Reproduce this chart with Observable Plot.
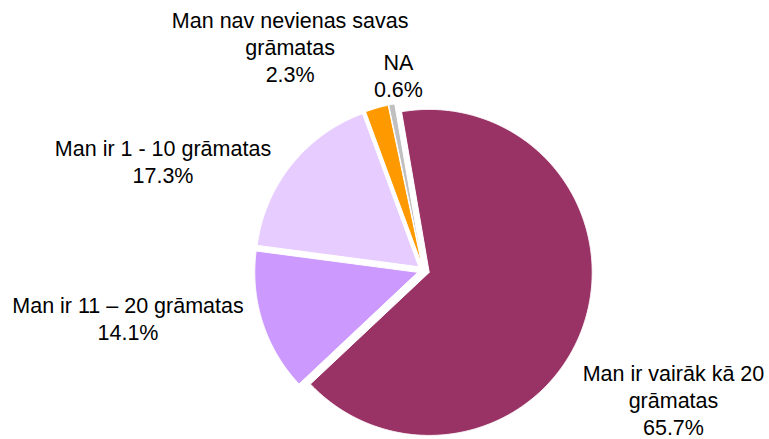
<!DOCTYPE html>
<html>
<head>
<meta charset="utf-8">
<script src="https://cdn.jsdelivr.net/npm/d3@7"></script>
<script src="https://cdn.jsdelivr.net/npm/@observablehq/plot@0.6"></script>
<style>
  html, body { margin: 0; padding: 0; background: #ffffff; }
  #chart svg { display: block; font-family: "Liberation Sans", Arial, sans-serif; }
</style>
</head>
<body>
<div id="chart"></div>
<script>
// ---- data (clockwise order of the slices) ----
const categories = [
  "Man ir vairāk kā 20 grāmatas",
  "Man ir 11 – 20 grāmatas",
  "Man ir 1 - 10 grāmatas",
  "Man nav nevienas savas grāmatas",
  "NA"
];
const values = [65.7, 14.1, 17.3, 2.3, 0.6];
const labelLines = [
  ["Man ir vairāk kā 20", "grāmatas"],
  ["Man ir 11 – 20 grāmatas"],
  ["Man ir 1 - 10 grāmatas"],
  ["Man nav nevienas savas", "grāmatas"],
  ["NA"]
];
const colors = ["#993366", "#CC99FF", "#E6CCFF", "#FF9900", "#C0C0C0"];

// ---- layout ----
const W = 769, H = 439;
const cx = 423, cy = 270, R = 163, explode = 6;
const startDeg = -9.76;
// label placement (polar, relative to pie centre): angle in degrees clockwise from top, distance in px
const labelAngle = [117.3, 260.85, 292.9, 329.2, 352.7];
const labelDist  = [281.3, 299.3, 282.8, 260.4, 197.2];

const pie = d3.pie().sort(null).value(d => d.value)
  .startAngle(startDeg * Math.PI / 180)
  .endAngle(startDeg * Math.PI / 180 + 2 * Math.PI);
const arcs = pie(categories.map((c, i) => ({category: c, value: values[i]})));

// slice outlines (vertex + arc boundary), in pixel-unit data space
const outline = [];
arcs.forEach(a => {
  const m = (a.startAngle + a.endAngle) / 2;
  const ox = cx + explode * Math.sin(m), oy = cy - explode * Math.cos(m);
  const cat = a.data.category;
  outline.push({category: cat, x: ox, y: oy});
  const n = Math.max(2, Math.ceil((a.endAngle - a.startAngle) / 0.005));
  for (let k = 0; k <= n; k++) {
    const t = a.startAngle + (a.endAngle - a.startAngle) * k / n;
    outline.push({category: cat, x: ox + R * Math.sin(t), y: oy - R * Math.cos(t)});
  }
  outline.push({category: cat, x: ox, y: oy});
});

const labels = categories.map((c, i) => {
  const t = labelAngle[i] * Math.PI / 180;
  return {
    x: cx + labelDist[i] * Math.sin(t),
    y: cy - labelDist[i] * Math.cos(t),
    text: [...labelLines[i], values[i].toFixed(1) + "%"].join("\n")
  };
});

const chart = Plot.plot({
  width: W,
  height: H,
  margin: 0,
  style: {background: "#ffffff", fontFamily: "'Liberation Sans', Arial, sans-serif"},
  x: {domain: [0, W], range: [0, W], axis: null},
  y: {domain: [0, H], range: [0, H], axis: null},
  color: {domain: categories, range: colors},
  marks: [
    Plot.line(outline, {x: "x", y: "y", z: "category", fill: "category", stroke: "white", strokeWidth: 1, curve: "linear"}),
    Plot.text(labels, {x: "x", y: "y", text: "text", fontSize: 21.5, lineHeight: 1.256, fill: "#000000", textAnchor: "middle", lineAnchor: "middle"})
  ]
});
document.getElementById("chart").appendChild(chart);
</script>
</body>
</html>
